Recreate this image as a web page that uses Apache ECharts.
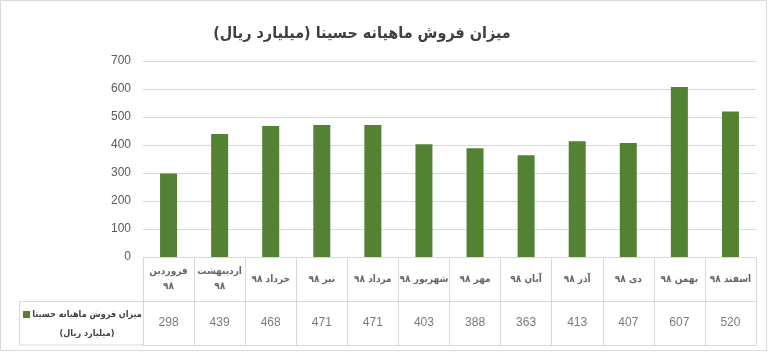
<!DOCTYPE html>
<html>
<head>
<meta charset="utf-8">
<script src="https://cdn.jsdelivr.net/npm/echarts@6/dist/echarts.min.js"></script>
<style>
    html, body { margin: 0; padding: 0; background: #fff; }
    #main { width: 768px; height: 352px; }
</style>
</head>
<body>
<div id="main" dir="rtl"></div>
<script>
    var myChart = echarts.init(document.getElementById('main'));

    // ماه‌ها (از چپ به راست)
    var months = ['فروردین ۹۸', 'اردیبهشت ۹۸', 'خرداد ۹۸', 'تیر ۹۸', 'مرداد ۹۸', 'شهریور ۹۸',
        'مهر ۹۸', 'آبان ۹۸', 'آذر ۹۸', 'دی ۹۸', 'بهمن ۹۸', 'اسفند ۹۸'];
    // فروش ماهیانه (میلیارد ریال)
    var sales = [298, 439, 468, 471, 471, 403, 388, 363, 413, 407, 607, 520];
    var seriesName = 'میزان فروش ماهیانه حسینا (میلیارد ریال)';
    var yTicks = { min: 0, max: 700, interval: 100 };

    var faFont = 'DejaVu Sans Condensed';
    var numFont = 'Liberation Sans';
    var green = '#548235';
    var lineColor = '#d9d9d9';

    // نام‌های بلند در دو خط
    function cellName(n) {
        return n.length > 9 ? n.replace(' ', '\n') : n;
    }

    option = {
        animation: false,
        textStyle: { fontFamily: numFont },
        title: {
            text: seriesName,
            left: 357,
            top: 21,
            textAlign: 'center',
            textStyle: {
                fontSize: 16,
                fontWeight: 'bold',
                color: '#404040',
                fontFamily: faFont
            }
        },
        grid: [
            // نمودار ستونی
            { left: 143, right: 12, top: 61, bottom: 95 },
            // جدول داده
            { left: 143, right: 12, top: 257, bottom: 7 }
        ],
        xAxis: [{
            type: 'category',
            gridIndex: 0,
            data: months,
            axisLine: { show: true, lineStyle: { color: lineColor } },
            axisTick: { show: false },
            axisLabel: { show: false }
        }, {
            type: 'category',
            gridIndex: 1,
            data: months,
            boundaryGap: true,
            axisLine: { show: false },
            axisTick: { show: false },
            axisLabel: { show: false },
            splitLine: { show: true, interval: 0, lineStyle: { color: lineColor } }
        }],
        yAxis: [{
            type: 'value',
            gridIndex: 0,
            min: yTicks.min,
            max: yTicks.max,
            interval: yTicks.interval,
            axisLine: { show: false },
            axisTick: { show: false },
            axisLabel: { color: '#595959', fontSize: 12, margin: 12, fontFamily: numFont },
            splitLine: { lineStyle: { color: lineColor } }
        }, {
            type: 'value',
            gridIndex: 1,
            min: 0,
            max: 2,
            interval: 1,
            axisLine: { show: false },
            axisTick: { show: false },
            axisLabel: { show: false },
            splitLine: { show: true, lineStyle: { color: lineColor } }
        }],
        series: [{
            name: seriesName,
            type: 'bar',
            xAxisIndex: 0,
            yAxisIndex: 0,
            barWidth: 17,
            itemStyle: { color: green },
            data: sales
        }, {
            // ردیف نام ماه‌ها
            type: 'scatter',
            xAxisIndex: 1,
            yAxisIndex: 1,
            symbolSize: 1,
            itemStyle: { color: 'rgba(0,0,0,0)' },
            label: {
                show: true,
                position: 'inside',
                fontSize: 10,
                fontWeight: 'bold',
                fontFamily: faFont,
                color: '#404040',
                lineHeight: 15,
                formatter: function (p) { return cellName(months[p.dataIndex]); }
            },
            data: months.map(function (m, i) { return [i, 1.5]; })
        }, {
            // ردیف مقادیر
            type: 'scatter',
            xAxisIndex: 1,
            yAxisIndex: 1,
            symbolSize: 1,
            itemStyle: { color: 'rgba(0,0,0,0)' },
            label: {
                show: true,
                position: 'inside',
                fontSize: 12,
                fontFamily: numFont,
                color: '#595959',
                formatter: function (p) { return String(p.value[2]); }
            },
            data: sales.map(function (v, i) { return [i, 0.5, v]; })
        }],
        graphic: [{
            type: 'rect',
            shape: { x: 0.5, y: 0.5, width: 766, height: 350 },
            style: { fill: 'none', stroke: lineColor }
        }, {
            type: 'rect',
            shape: { x: 19.5, y: 301.5, width: 124, height: 43.5 },
            style: { fill: 'none', stroke: lineColor }
        }, {
            type: 'rect',
            shape: { x: 23, y: 311, width: 7, height: 7 },
            style: { fill: green }
        }, {
            type: 'text',
            x: 87,
            y: 324,
            style: {
                text: 'میزان فروش ماهیانه حسینا\n(میلیارد ریال)',
                fontFamily: faFont,
                fontSize: 9,
                fontWeight: 'bold',
                fill: '#404040',
                align: 'center',
                verticalAlign: 'middle',
                lineHeight: 19
            }
        }]
    };

    myChart.setOption(option);
</script>
</body>
</html>
